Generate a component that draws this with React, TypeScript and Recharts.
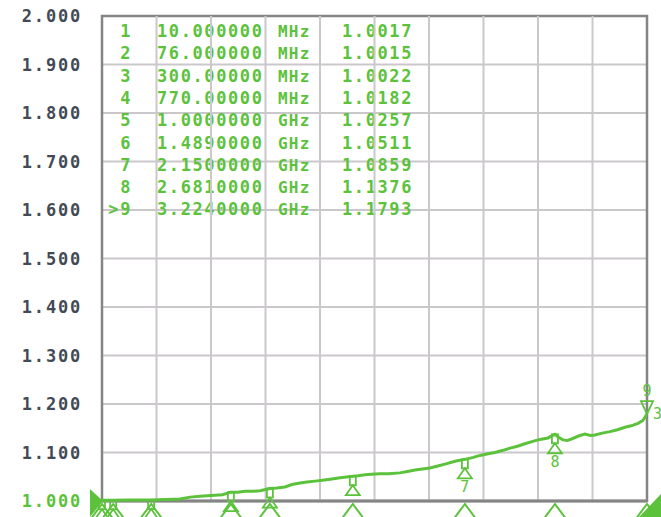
import React from 'react';
import {
  LineChart,
  Line,
  XAxis,
  YAxis,
  CartesianGrid,
  ReferenceDot,
  ReferenceLine,
  ReferenceArea,
  Customized,
} from 'recharts';

// trace (frequency in GHz, VSWR)
const traceFreq = [
  0.01, 0.076, 0.175, 0.3, 0.38, 0.43, 0.47, 0.53, 0.588, 0.63, 0.676, 0.72, 0.77, 0.81, 0.853, 0.9,
  0.942, 1.0, 1.04, 1.089, 1.13, 1.178, 1.22, 1.266, 1.31, 1.355, 1.414, 1.489, 1.52, 1.561, 1.6,
  1.649, 1.7, 1.767, 1.81, 1.856, 1.9, 1.944, 1.99, 2.033, 2.092, 2.15, 2.2, 2.239, 2.28, 2.327,
  2.37, 2.416, 2.46, 2.504, 2.55, 2.593, 2.64, 2.681, 2.705, 2.728, 2.755, 2.781, 2.82, 2.858,
  2.89, 2.917, 2.96, 3.005, 3.05, 3.094, 3.13, 3.171, 3.2, 3.224,
];
const traceVswr = [
  1.0017, 1.0015, 1.002, 1.0022, 1.003, 1.0035, 1.004, 1.008, 1.01, 1.011, 1.012, 1.013, 1.0182,
  1.018, 1.02, 1.02, 1.021, 1.0257, 1.027, 1.029, 1.034, 1.037, 1.039, 1.041, 1.043, 1.045, 1.048,
  1.0511, 1.052, 1.054, 1.055, 1.056, 1.056, 1.058, 1.061, 1.064, 1.066, 1.068, 1.072, 1.076, 1.082,
  1.0859, 1.09, 1.094, 1.097, 1.1, 1.104, 1.109, 1.113, 1.118, 1.123, 1.127, 1.13, 1.1376, 1.131,
  1.126, 1.125, 1.128, 1.134, 1.138, 1.135, 1.136, 1.14, 1.143, 1.147, 1.152, 1.155, 1.16, 1.166,
  1.1793,
];

// marker table
const markerIds = ['1', '2', '3', '4', '5', '6', '7', '8', '>9'];
const markerFreqText = [
  '10.000000', '76.000000', '300.00000', '770.00000', '1.0000000',
  '1.4890000', '2.1500000', '2.6810000', '3.2240000',
];
const markerUnits = ['MHz', 'MHz', 'MHz', 'MHz', 'GHz', 'GHz', 'GHz', 'GHz', 'GHz'];
const markerValueText = ['1.0017', '1.0015', '1.0022', '1.0182', '1.0257', '1.0511', '1.0859', '1.1376', '1.1793'];
const markerFreq = [0.01, 0.076, 0.3, 0.77, 1.0, 1.489, 2.15, 2.681, 3.224];
const markerVswr = [1.0017, 1.0015, 1.0022, 1.0182, 1.0257, 1.0511, 1.0859, 1.1376, 1.1793];

const yTicks = [1.0, 1.1, 1.2, 1.3, 1.4, 1.5, 1.6, 1.7, 1.8, 1.9, 2.0];
const xStart = 0.01;
const xStop = 3.224;
const xDivs = [1, 2, 3, 4, 5, 6, 7, 8, 9];

const data = traceFreq.map((f, i) => ({ freq: f, vswr: traceVswr[i] }));
const xGrid = xDivs.map((d) => xStart + ((xStop - xStart) * d) / 10);

const GREEN = '#5cc23c';
const GRID = '#cbc8cc';
const MONO = '"DejaVu Sans Mono", monospace';

const YTick = (props: any) => {
  const { x, y, payload } = props;
  const active = payload.value === 1;
  return (
    <text
      x={x - 12}
      y={y}
      dy={6}
      textAnchor="end"
      fontFamily={MONO}
      fontSize={17}
      fontWeight="bold"
      letterSpacing={1.8}
      fill={active ? GREEN : '#434a56'}
    >
      {payload.value.toFixed(3)}
    </text>
  );
};

// marker flag hanging under the trace; the low markers' numbers fall off the screen
const markerShape = (label: string) => (props: any) => {
  const { cx, cy } = props;
  if (label === '9') {
    return (
      <g>
        <path d={`M${cx - 6} ${cy - 13} L${cx + 6} ${cy - 13} L${cx} ${cy} Z`} fill="none" stroke={GREEN} strokeWidth={1.8} />
        <text x={cx} y={cy - 18} textAnchor="middle" fontFamily={MONO} fontSize={15} fill={GREEN}>9</text>
        <text x={cx + 6} y={cy + 5} fontFamily={MONO} fontSize={15} fill={GREEN}>3</text>
      </g>
    );
  }
  const showLabel = Number(label) > 6;
  return (
    <g>
      <rect x={cx - 3} y={cy} width={6} height={9} fill="none" stroke={GREEN} strokeWidth={1.8} />
      <path d={`M${cx} ${cy + 9} L${cx - 7} ${cy + 19} L${cx + 7} ${cy + 19} Z`} fill="none" stroke={GREEN} strokeWidth={1.8} />
      {showLabel && (
        <text x={cx} y={cy + 33} textAnchor="middle" fontFamily={MONO} fontSize={15} fill={GREEN}>{label}</text>
      )}
    </g>
  );
};

const bottomTriangle = (props: any) => {
  const { cx, cy } = props;
  return (
    <path
      d={`M${cx} ${cy + 3} L${cx - 12} ${cy + 19} L${cx + 12} ${cy + 19} Z`}
      fill="none"
      stroke={GREEN}
      strokeWidth={2}
    />
  );
};

const refLevelArrow = (props: any) => {
  const { cx, cy } = props;
  return <path d={`M${cx - 12} ${cy - 12} L${cx + 1} ${cy} L${cx - 12} ${cy + 16} Z`} fill={GREEN} />;
};

const stopCorner = (props: any) => {
  const { cx, cy } = props;
  return <path d={`M${cx - 8} ${cy + 16} L${cx + 14} ${cy - 7} L${cx + 14} ${cy + 16} Z`} fill={GREEN} />;
};

const MarkerTable = () => (
  <g fontFamily={MONO} fontSize={17} fontWeight="bold" letterSpacing={1.6} fill={GREEN}>
    {markerIds.map((id, i) => {
      const y = 37 + i * 22.3;
      return (
        <g key={id}>
          <text x={132} y={y} textAnchor="end">{id}</text>
          <text x={157} y={y}>{markerFreqText[i]}</text>
          <text x={278} y={y} fontSize={16} letterSpacing={1.2}>{markerUnits[i]}</text>
          <text x={342} y={y}>{markerValueText[i]}</text>
        </g>
      );
    })}
  </g>
);

export default function App() {
  return (
    <div style={{ position: 'absolute', left: 0, top: 0, width: 661, height: 517, background: '#fff', overflow: 'hidden' }}>
      <LineChart width={661} height={517} data={data} margin={{ top: 16, right: 14, bottom: 16, left: 0 }}>
        <CartesianGrid stroke={GRID} strokeWidth={2} vertical={false} />
        <XAxis
          dataKey="freq"
          type="number"
          domain={[xStart, xStop]}
          tick={false}
          tickLine={false}
          axisLine={false}
          height={0}
          allowDataOverflow
        />
        <YAxis
          type="number"
          domain={[1, 2]}
          ticks={yTicks}
          width={102}
          axisLine={false}
          tickLine={false}
          tick={<YTick />}
          interval={0}
        />
        {xGrid.map((g) => (
          <ReferenceLine key={g} x={g} stroke={GRID} strokeWidth={2} />
        ))}
        <ReferenceArea x1={xStart} x2={xStop} y1={1} y2={2} fill="none" stroke="#858585" strokeWidth={2.5} />
        <ReferenceLine y={1} stroke="#858585" strokeWidth={3} />
        <Customized component={MarkerTable} />
        <Line
          dataKey="vswr"
          type="linear"
          stroke={GREEN}
          strokeWidth={3}
          dot={false}
          isAnimationActive={false}
        />
        {markerFreq.map((f, i) => (
          <ReferenceDot key={`b${i}`} x={f} y={1} r={0} ifOverflow="visible" shape={bottomTriangle} />
        ))}
        {markerFreq.map((f, i) => (
          <ReferenceDot
            key={`m${i}`}
            x={f}
            y={markerVswr[i]}
            r={0}
            ifOverflow="visible"
            shape={markerShape(String(i + 1))}
          />
        ))}
        <ReferenceDot x={xStart} y={1} r={0} ifOverflow="visible" shape={refLevelArrow} />
        <ReferenceDot x={xStop} y={1} r={0} ifOverflow="visible" shape={stopCorner} />
      </LineChart>
    </div>
  );
}
